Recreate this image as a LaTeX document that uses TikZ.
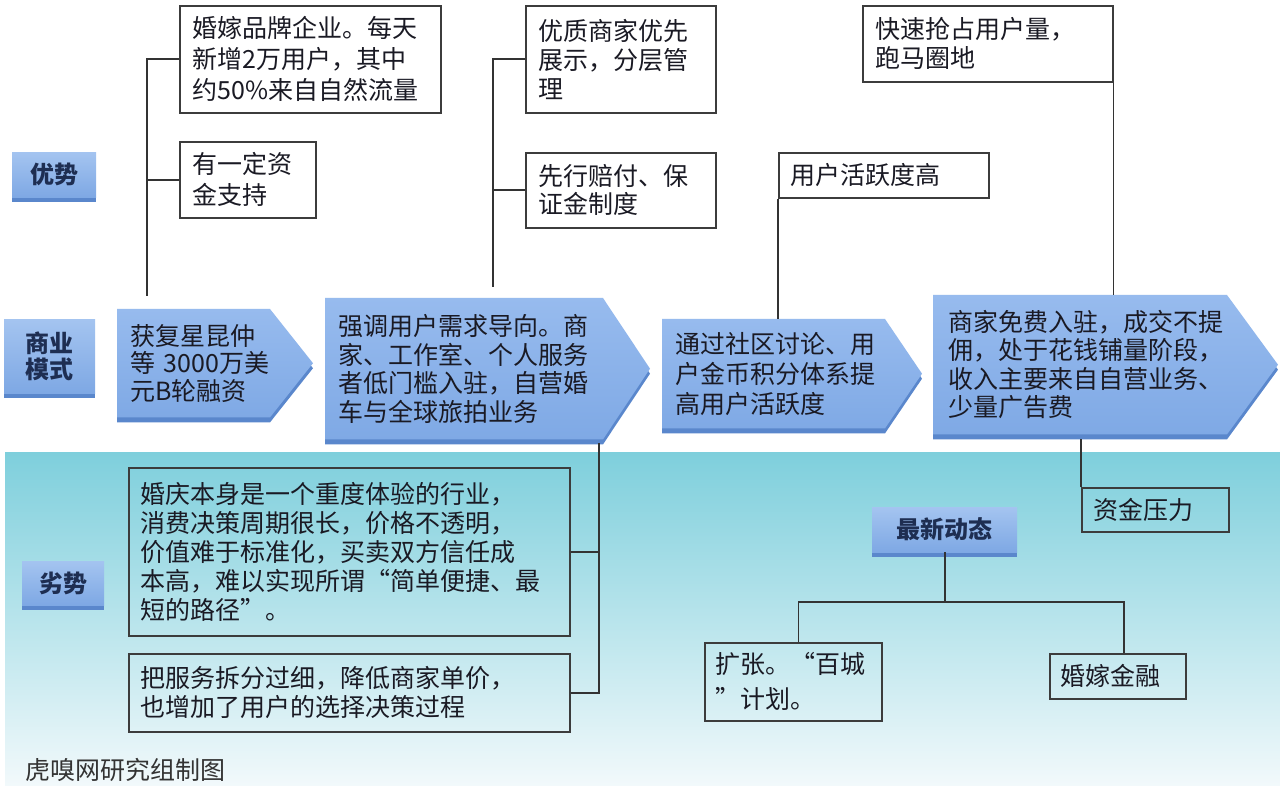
\documentclass[tikz,border=0pt]{standalone}
\usepackage{fontspec}
\setmainfont{Noto Sans CJK SC}
\usetikzlibrary{calc,shadows}
\pgfdeclarelayer{bg}
\pgfsetlayers{bg,main}
\definecolor{boxline}{HTML}{3C3C3C}
\definecolor{connc}{HTML}{333333}
\definecolor{arrowtop}{HTML}{97BBEE}
\definecolor{arrowbot}{HTML}{7FA9E5}
\definecolor{shadowblue}{HTML}{5A87CC}
\definecolor{labtop}{HTML}{A4C4F0}
\definecolor{labbot}{HTML}{7EA8E4}
\definecolor{labtext}{HTML}{1E2E52}
\definecolor{bodytext}{HTML}{1A1A24}
\definecolor{bandtop}{HTML}{7ECFDC}
\definecolor{bandbot}{HTML}{F2F9FB}
\definecolor{footgray}{HTML}{333333}
\newcommand{\chev}[3]{%
  \path[top color=arrowtop, bottom color=arrowbot,
        general shadow={fill=shadowblue, shadow yshift=-5pt}]
    (#1.north west) -- ($(#1.north west)+(#2,0)$) -- ($(#1.west)+(#2+#3,0)$)
    -- ($(#1.south west)+(#2,0)$) -- (#1.south west) -- cycle;}
\tikzset{
  txt/.style={font=\fontsize{25}{#1}\selectfont},
  wbox/.style={draw=boxline, line width=1.6pt, fill=white, anchor=north west,
    inner ysep=0pt, align=left, text=bodytext},
  lbox/.style={draw=boxline, line width=1.6pt, anchor=north west,
    inner ysep=0pt, align=left, text=bodytext},
  lab/.style={anchor=north west, top color=labtop, bottom color=labbot,
    general shadow={fill=shadowblue, shadow yshift=-5pt}, text=labtext,
    align=center, inner sep=0pt, font=\fontsize{24}{26}\selectfont\bfseries},
  atext/.style={anchor=north west, inner ysep=0pt, align=left, text=bodytext},
  link/.style={draw=connc, line width=1.6pt}
}
\begin{document}
\begin{tikzpicture}[x=1pt,y=-1pt]
\useasboundingbox (0,0) rectangle (1280,786);

% labels
\node[lab, minimum width=84pt, minimum height=45pt] (lyou) at (12,152) {优势};
\node[lab, minimum width=91pt, minimum height=74pt] (lshang) at (4,319) {商业\\模式};
\node[lab, minimum width=82pt, minimum height=44pt] (llie) at (22,561) {劣势};
\node[lab, minimum width=145pt, minimum height=45pt] (zx) at (872,507) {最新动态};

% upper boxes
\node[wbox, txt=31, inner xsep=13pt, text width=235pt, minimum width=261pt, minimum height=107pt] (b1) at (179,5)
  {婚嫁品牌企业。每天\\新增2万用户，其中\\约50\%来自自然流量};
\node[wbox, txt=31, inner xsep=13pt, text width=110pt, minimum width=136pt, minimum height=76pt] (b2) at (179,141)
  {有一定资\\金支持};
\node[wbox, txt=29, inner xsep=13pt, text width=164pt, minimum width=190pt, minimum height=107pt] (b3) at (525,5)
  {优质商家优先\\展示，分层管\\理};
\node[wbox, txt=28, inner xsep=13pt, text width=164pt, minimum width=190pt, minimum height=75pt] (b4) at (525,152)
  {先行赔付、保\\证金制度};
\node[wbox, txt=29, inner xsep=13pt, text width=224pt, minimum width=250pt, minimum height=76pt] (ks) at (862,5)
  {快速抢占用户量，\\跑马圈地};
\node[wbox, txt=29, inner xsep=12pt, text width=186pt, minimum width=210pt, minimum height=45pt] (ua) at (778,152)
  {用户活跃度高};

% arrow texts
\node[atext, txt=27.5, inner xsep=13pt, text width=160pt, minimum height=108pt] (a1) at (117,309)
  {获复星昆仲\\等~3000万美\\元B轮融资};
\node[atext, txt=28.5, inner xsep=13pt, text width=260pt, minimum height=141pt] (a2) at (325,298)
  {强调用户需求导向。商\\家、工作室、个人服务\\者低门槛入驻，自营婚\\车与全球旅拍业务};
\node[atext, txt=30, inner xsep=13pt, text width=210pt, minimum height=109pt] (a3) at (662,319)
  {通过社区讨论、用\\户金币积分体系提\\高用户活跃度};
\node[atext, txt=28.5, inner xsep=15pt, text width=285pt, minimum height=139pt] (a4) at (933,295)
  {商家免费入驻，成交不提\\佣，处于花钱铺量阶段，\\收入主要来自自营业务、\\少量广告费};

% lower boxes
\node[lbox, txt=29, inner xsep=12pt, text width=417pt, minimum width=441pt, minimum height=168pt] (w1) at (128,467)
  {婚庆本身是一个重度体验的行业，\\消费决策周期很长，价格不透明，\\价值难于标准化，买卖双方信任成\\本高，难以实现所谓“简单便捷、最\\短的路径”。};
\node[lbox, txt=29, inner xsep=12pt, text width=417pt, minimum width=441pt, minimum height=78pt] (w2) at (128,653)
  {把服务拆分过细，降低商家单价，\\也增加了用户的选择决策过程};
\node[lbox, txt=29, inner xsep=12pt, text width=123pt, minimum width=147pt, minimum height=44pt] (zj) at (1081,487)
  {资金压力};
\node[lbox, txt=35, inner xsep=11pt, text width=155pt, minimum width=177pt, minimum height=78pt] (k7) at (704,642)
  {扩张。“百城\\”计划。};
\node[lbox, txt=29, inner xsep=11pt, text width=114pt, minimum width=136pt, minimum height=45pt] (k8) at (1049,653)
  {婚嫁金融};

\node[anchor=west, inner sep=0pt, text=footgray, font=\fontsize{25}{25}\selectfont] (foot) at (25,770) {虎嗅网研究组制图};

% background layer: page, band and chevrons
\begin{pgfonlayer}{bg}
  \fill[white] (0,0) rectangle (1280,786);
  \shade[top color=bandtop, bottom color=bandbot] (5,452) rectangle (1280,786);
  \chev{a1}{153}{43}
  \chev{a2}{278}{47}
  \chev{a3}{223}{37}
  \chev{a4}{294}{51}
\end{pgfonlayer}

% connectors
\coordinate (c1) at (147,296);
\coordinate (c2) at (493,287);
\coordinate (c5) at (599,443);
\coordinate (j) at (945,602);
\draw[link] (b1.west) -| (c1);
\draw[link] (b2.west) -- (b2.west -| c1);
\draw[link] (b3.west) -| (c2);
\draw[link] (b4.west) -- (b4.west -| c2);
\draw[link] (ua.south west) -- (ua.south west |- a3.north);
\draw[link] (ks.south east) -- (ks.south east |- a4.north);
\draw[link] (w2.east) -| (c5);
\draw[link] (w1.east) -- (w1.east -| c5);
\draw[link] (zj.north west) -- ([yshift=-5pt]zj.north west |- a4.south);
\draw[link] (zx.south) -- (zx.south |- j);
\draw[link] ([xshift=5pt]k7.north) |- (j) -| ([xshift=6pt]k8.north);
\end{tikzpicture}
\end{document}
